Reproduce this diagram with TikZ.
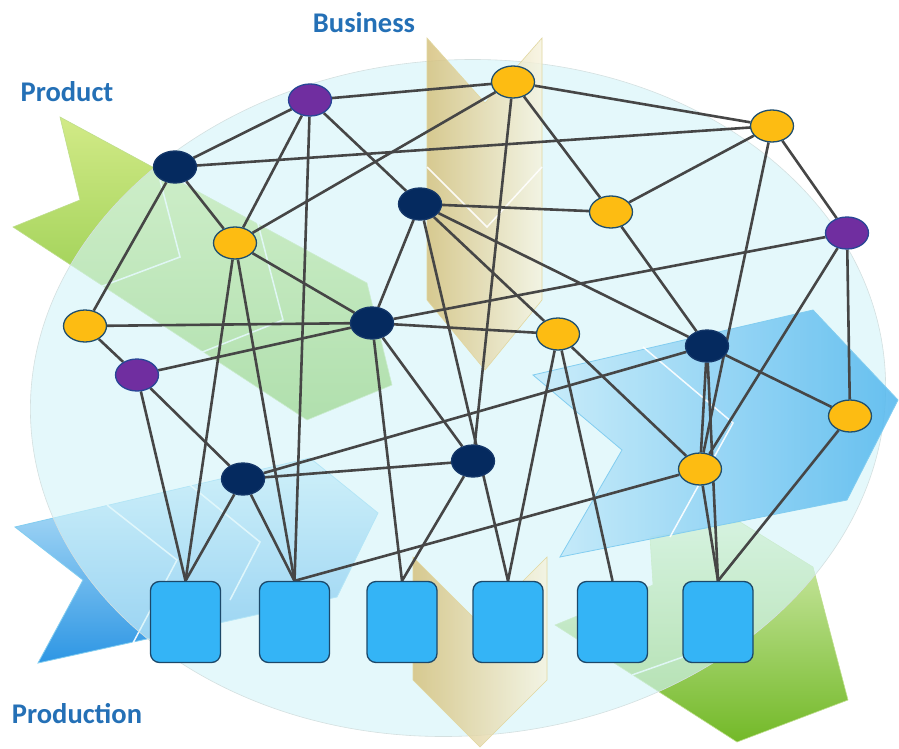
\documentclass[tikz,border=0pt]{standalone}
\usepackage{fontspec}
\setmainfont{Carlito}
\usetikzlibrary{shapes.geometric}
\definecolor{edgec}{RGB}{70,70,70}
\definecolor{yelc}{RGB}{253,188,18}
\definecolor{purc}{RGB}{112,46,160}
\definecolor{purbd}{RGB}{40,70,150}
\definecolor{navc}{RGB}{5,42,95}
\definecolor{navbd}{RGB}{20,55,105}
\definecolor{nodebd}{RGB}{30,78,110}
\definecolor{sqc}{RGB}{52,180,246}
\definecolor{sqbd}{RGB}{28,72,105}
\definecolor{lblc}{RGB}{36,112,182}
\definecolor{ellc}{RGB}{212,245,250}
\definecolor{ellbd}{RGB}{212,224,224}
\definecolor{gAtop}{RGB}{210,234,135}
\definecolor{gAbot}{RGB}{120,190,50}
\definecolor{tanL}{RGB}{212,190,118}
\definecolor{tanR}{RGB}{246,243,222}
\definecolor{bLtop}{RGB}{200,234,250}
\definecolor{bLbot}{RGB}{45,150,228}
\definecolor{bRL}{RGB}{200,236,250}
\definecolor{bRR}{RGB}{80,182,238}
\definecolor{gBtop}{RGB}{215,238,180}
\definecolor{gBbot}{RGB}{115,185,40}
\definecolor{bline}{RGB}{130,205,240}
\definecolor{gline}{RGB}{190,222,140}
\definecolor{tline}{RGB}{225,215,160}

\pgfdeclarelayer{bg}
\pgfdeclarelayer{edgelayer}
\pgfsetlayers{bg,edgelayer,main}

\tikzset{
  nodeel/.style={ellipse, line width=1.3pt, minimum width=43pt, minimum height=32pt, inner sep=0pt},
  yel/.style={nodeel, draw=nodebd, fill=yelc},
  pur/.style={nodeel, draw=purbd, fill=purc},
  nav/.style={nodeel, draw=navbd, fill=navc},
  sqbox/.style={rectangle, rounded corners=9pt, draw=sqbd, line width=1.3pt, fill=sqc,
    minimum width=70pt, minimum height=81pt, inner sep=0pt},
  link/.style={draw=edgec, line width=2.6pt},
  lbl/.style={text=lblc, font=\bfseries\fontsize{28.5}{34}\selectfont, inner sep=0pt, anchor=base},
  wline/.style={draw=white, line width=1.5pt, opacity=0.9},
}

\begin{document}
\begin{tikzpicture}[x=1pt,y=-1pt]
\useasboundingbox (0,0) rectangle (899,749);

\begin{pgfonlayer}{bg}
\fill[white] (0,0) rectangle (899,749);
% green Product arrow
\draw[draw=gline, line width=0.6pt, top color=gAtop, bottom color=gAbot]
  (60,117) -- (367,283) -- (392,385) -- (307,420) -- (13,227) -- (80,200) -- cycle;
\draw[wline] (160,180) -- (180,257) -- (100,287);
\draw[wline] (257,220) -- (283,320) -- (200,353);
% blue Production arrow (left)
\draw[draw=bline, line width=0.8pt, top color=bLtop, bottom color=bLbot]
  (15,527) -- (310,458) -- (378,513) -- (337,597) -- (38,663) -- (83,580) -- cycle;
\draw[wline] (107,505) -- (177,560) -- (133,643);
\draw[wline] (190,485) -- (260,542) -- (230,600);
% green lower right arrow
\draw[draw=gline, line width=0.6pt, top color=gBtop, bottom color=gBbot]
  (650,537) -- (740,522) -- (813,567) -- (848,700) -- (737,742) -- (555,625) -- (653,585) -- cycle;
\draw[wline] (632,675) -- (683,657);
% big ellipse overlay
\fill[ellc, fill opacity=0.62, rotate around={4:(458,398)}] (458,398) ellipse [x radius=428, y radius=338];
\draw[ellbd, line width=0.6pt, rotate around={4:(458,398)}] (458,398) ellipse [x radius=428, y radius=338];
% tan Business arrows
\draw[draw=tline, line width=0.6pt, left color=tanL, right color=tanR, fill opacity=0.8]
  (427,38) -- (485,103) -- (542,38) -- (542,300) -- (485,370) -- (427,300) -- cycle;
\draw[wline] (427,167) -- (487,227) -- (542,167);
\draw[draw=tline, line width=0.6pt, left color=tanL, right color=tanR, fill opacity=0.8]
  (413,557) -- (480,624) -- (547,557) -- (547,680) -- (480,747) -- (413,680) -- cycle;
% blue right arrow (above ellipse)
\draw[draw=bline, line width=0.8pt, left color=bRL, right color=bRR, fill opacity=0.85]
  (533,375) -- (813,310) -- (898,400) -- (847,500) -- (560,557) -- (622,450) -- cycle;
\draw[wline] (643,347) -- (733,423) -- (670,537);
\end{pgfonlayer}

% labels
\node[lbl] (bus) at (364,33) {Business};
\node[lbl] (prod) at (67,102) {Product};
\node[lbl] (pron) at (77,723) {Production};

% nodes
\node[pur] (P1) at (310,100) {};
\node[pur] (P2) at (847,233) {};
\node[pur] (P3) at (137,375) {};
\node[nav] (N1) at (175,167) {};
\node[nav] (N2) at (420,204) {};
\node[nav] (N3) at (372,323) {};
\node[nav] (N4) at (707,346) {};
\node[nav] (N5) at (243,479) {};
\node[nav] (N6) at (473,461) {};
\node[yel] (Y1) at (513,82) {};
\node[yel] (Y2) at (772,126) {};
\node[yel] (Y3) at (611,212) {};
\node[yel] (Y4) at (235,243) {};
\node[yel] (Y5) at (85,326) {};
\node[yel] (Y6) at (558,334) {};
\node[yel] (Y7) at (850,416) {};
\node[yel] (Y8) at (700,469) {};
\node[sqbox] (S1) at (185.5,622) {};
\node[sqbox] (S2) at (294.5,622) {};
\node[sqbox] (S3) at (402,622) {};
\node[sqbox] (S4) at (508,622) {};
\node[sqbox] (S5) at (612.5,622) {};
\node[sqbox] (S6) at (718,622) {};

\begin{pgfonlayer}{edgelayer}
\draw[link] (P1) -- (N1);
\draw[link] (P1) -- (Y1);
\draw[link] (P1) -- (Y4);
\draw[link] (P1) -- (N2);
\draw[link] (P1) -- (S2.north);
\draw[link] (N1) -- (Y2);
\draw[link] (N1) -- (Y4);
\draw[link] (N1) -- (Y5);
\draw[link] (Y4) -- (Y1);
\draw[link] (Y4) -- (N3);
\draw[link] (Y4) -- (S1.north);
\draw[link] (Y4) -- (S2.north);
\draw[link] (Y5) -- (N3);
\draw[link] (Y5) -- (P3);
\draw[link] (P3) -- (N3);
\draw[link] (P3) -- (S1.north);
\draw[link] (P3) -- (N5);
\draw[link] (N3) -- (N2);
\draw[link] (N3) -- (P2);
\draw[link] (N3) -- (Y6);
\draw[link] (N3) -- (S3.north);
\draw[link] (N3) -- (N6);
\draw[link] (N2) -- (Y3);
\draw[link] (N2) -- (Y6);
\draw[link] (N2) -- (N4);
\draw[link] (N2) -- (S4.north);
\draw[link] (Y1) -- (Y2);
\draw[link] (Y1) -- (Y3);
\draw[link] (Y1) -- (N6);
\draw[link] (Y2) -- (Y3);
\draw[link] (Y2) -- (P2);
\draw[link] (Y2) -- (Y8);
\draw[link] (Y3) -- (N4);
\draw[link] (P2) -- (Y8);
\draw[link] (P2) -- (Y7);
\draw[link] (N4) -- (N5);
\draw[link] (N4) -- (Y8);
\draw[link] (N4) -- (S6.north);
\draw[link] (N4) -- (Y7);
\draw[link] (Y6) -- (S4.north);
\draw[link] (Y6) -- (S5.north);
\draw[link] (Y6) -- (Y8);
\draw[link] (Y8) -- (S2.north);
\draw[link] (Y8) -- (S6.north);
\draw[link] (Y7) -- (S6.north);
\draw[link] (N5) -- (N6);
\draw[link] (N5) -- (S1.north);
\draw[link] (N5) -- (S2.north);
\draw[link] (N6) -- (S3.north);
\end{pgfonlayer}
\end{tikzpicture}
\end{document}
